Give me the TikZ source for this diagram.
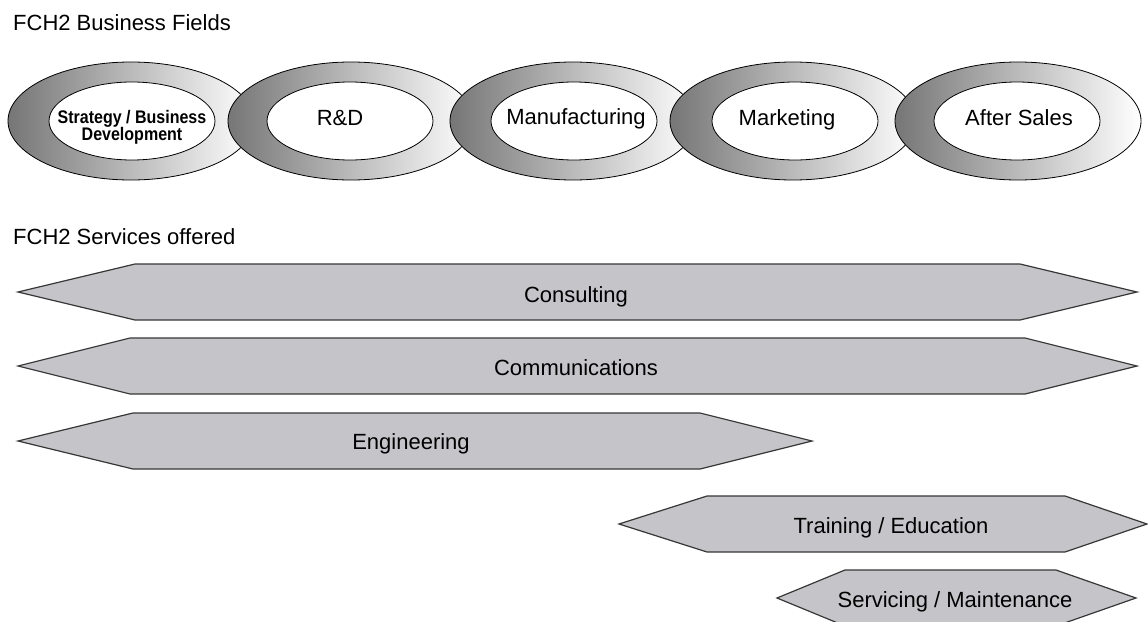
\documentclass[tikz,border=0pt]{standalone}
\usepackage{fontspec}
\setmainfont{Liberation Sans}
\newfontfamily\narrowfont{Liberation Sans}[FakeStretch=0.88]
\usetikzlibrary{shapes.geometric}
\definecolor{hexfill}{RGB}{197,196,200}
\definecolor{hexedge}{RGB}{55,55,55}
\definecolor{ringdark}{RGB}{118,118,118}
\tikzset{
  outerring/.style={ellipse, draw=black, line width=0.8pt, minimum width=246pt, minimum height=118pt, inner sep=0pt, left color=ringdark, right color=white},
  innerring/.style={ellipse, draw=black, line width=0.8pt, minimum width=166pt, minimum height=78pt, inner sep=0pt, fill=white},
  ringlabel/.style={anchor=base, inner sep=0pt, font=\fontsize{22}{26}\selectfont},
  smalllabel/.style={anchor=base, inner sep=0pt, font=\narrowfont\bfseries\fontsize{18.2}{20}\selectfont},
  hexshape/.style={fill=hexfill, draw=hexedge, line width=1.2pt, line join=miter},
  hexlabel/.style={anchor=base, inner sep=0pt, font=\fontsize{22}{26}\selectfont},
  title/.style={anchor=base west, inner sep=0pt, font=\fontsize{22}{26}\selectfont}
}
\begin{document}
\begin{tikzpicture}[x=1pt, y=-1pt]
\useasboundingbox (0,0) rectangle (1148,621);
\fill[white] (0,0) rectangle (1148,621);
\clip (0,0) rectangle (1148,621);

% titles
\node[title] (t1) at (13,30) {FCH2 Business Fields};
\node[title] (t2) at (13,244) {FCH2 Services offered};

% rings
\node[outerring] (o1) at (131,121) {};
\node[innerring] (i1) at (132,121) {};
\node[smalllabel] (l1a) at (132,123) {Strategy / Business};
\node[smalllabel] (l1b) at (132,140) {Development};

\node[outerring] (o2) at (351,121) {};
\node[innerring] (i2) at (350,121) {};
\node[ringlabel] (l2) at (340,125) {R\&D};

\node[outerring] (o3) at (573,121) {};
\node[innerring] (i3) at (574,121) {};
\node[ringlabel] (l3) at (576,124) {Manufacturing};

\node[outerring] (o4) at (793,121) {};
\node[innerring] (i4) at (795,121) {};
\node[ringlabel] (l4) at (787,125) {Marketing};

\node[outerring] (o5) at (1018,121) {};
\node[innerring] (i5) at (1017,121) {};
\node[ringlabel] (l5) at (1019,125) {After Sales};

% services
\path[hexshape] (18,292) -- (135,264) -- (1020,264) -- (1137,292) -- (1020,320) -- (135,320) -- cycle;
\node[hexlabel] (s1) at (576,302) {Consulting};

\path[hexshape] (18,366) -- (130,338) -- (1025,338) -- (1137,366) -- (1025,394) -- (130,394) -- cycle;
\node[hexlabel] (s2) at (576,375) {Communications};

\path[hexshape] (18,441) -- (133,413) -- (700,413) -- (812,441) -- (700,469) -- (133,469) -- cycle;
\node[hexlabel] (s3) at (411,449) {Engineering};

\path[hexshape] (619,524) -- (707,496) -- (1065,496) -- (1147,524) -- (1065,552) -- (707,552) -- cycle;
\node[hexlabel] (s4) at (891,533) {Training / Education};

\path[hexshape] (777,598) -- (845,570) -- (1056,570) -- (1136,598) -- (1056,626) -- (845,626) -- cycle;
\node[hexlabel] (s5) at (955,607) {Servicing / Maintenance};
\end{tikzpicture}
\end{document}
